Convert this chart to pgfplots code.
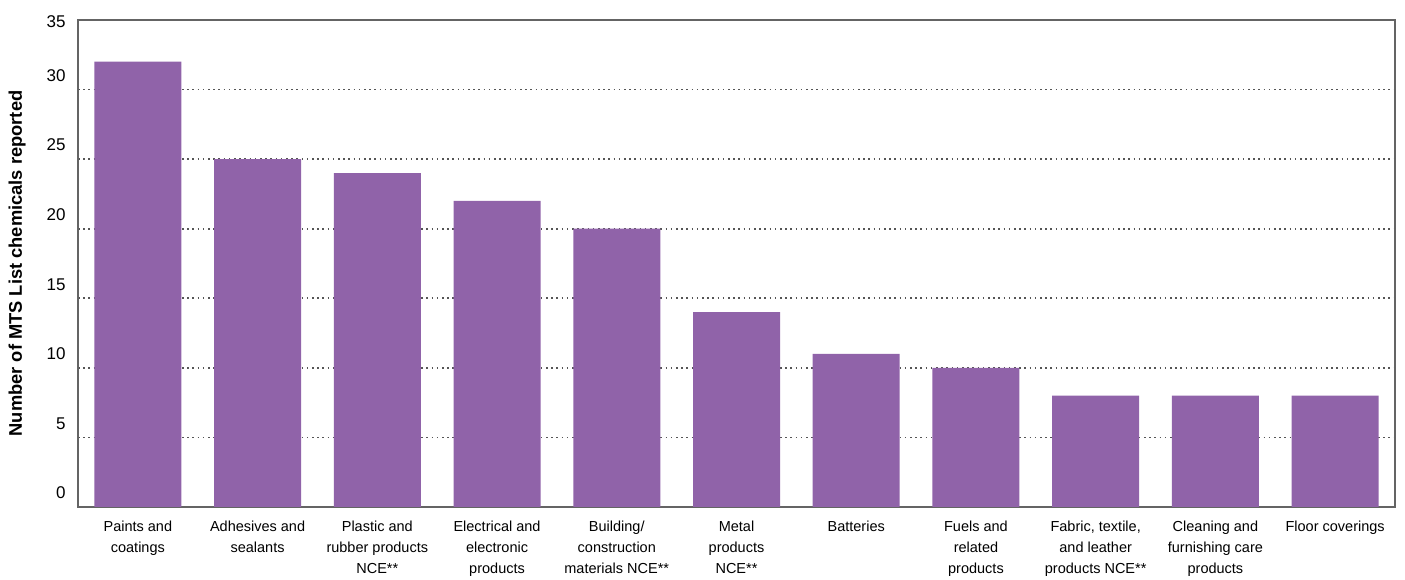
\documentclass[border=0pt]{standalone}
\usepackage{fontspec}
\setmainfont{Liberation Sans}
\usepackage{pgfplots}
\pgfplotsset{compat=1.18}
\definecolor{barpurple}{RGB}{144,99,169}
\definecolor{gridgray}{RGB}{85,85,85}
\definecolor{framegray}{RGB}{100,100,100}
\begin{document}
\begin{tikzpicture}
\begin{axis}[
  scale only axis,
  width=1317pt, height=487pt,
  xmin=-0.5, xmax=10.5,
  ymin=0, ymax=35,
  ybar, bar width=87pt, bar shift=0pt,
  xtick=data,
  xticklabels={{Paints and\\coatings},{Adhesives and\\sealants},{Plastic and\\rubber products\\NCE**},{Electrical and\\electronic\\products},{Building/\\construction\\materials NCE**},{Metal\\products\\NCE**},{Batteries},{Fuels and\\related\\products},{Fabric, textile,\\and leather\\products NCE**},{Cleaning and\\furnishing care\\products},{Floor coverings}},
  xticklabel style={align=center, font=\fontsize{14.5}{21}\selectfont, yshift=-10pt},
  ytick={0,5,10,15,20,25,30},
  extra y ticks={35},
  extra y tick style={grid=none, yticklabel style={yshift=-16pt}},
  yticklabel style={font=\fontsize{17}{20}\selectfont, yshift=14pt, xshift=-9pt},
  /pgf/number format/assume math mode=true,
  ymajorgrids,
  major grid style={gridgray, line width=1.6pt, dash pattern=on 1.6pt off 3.6pt},
  major tick length=0pt,
  axis line style={framegray, line width=1.2pt},
  ylabel={\bfseries Number of MTS List chemicals reported},
  ylabel style={font=\fontsize{18.3}{21}\selectfont, yshift=14pt},
]
\addplot[fill=barpurple, draw=none] coordinates {
(0,32) (1,25) (2,24) (3,22) (4,20) (5,14) (6,11) (7,10) (8,8) (9,8) (10,8)
};
\end{axis}
\path[use as bounding box] ([xshift=-78pt,yshift=-72pt]current axis.south west) rectangle ([xshift=10pt,yshift=20pt]current axis.north east);
\end{tikzpicture}
\end{document}
